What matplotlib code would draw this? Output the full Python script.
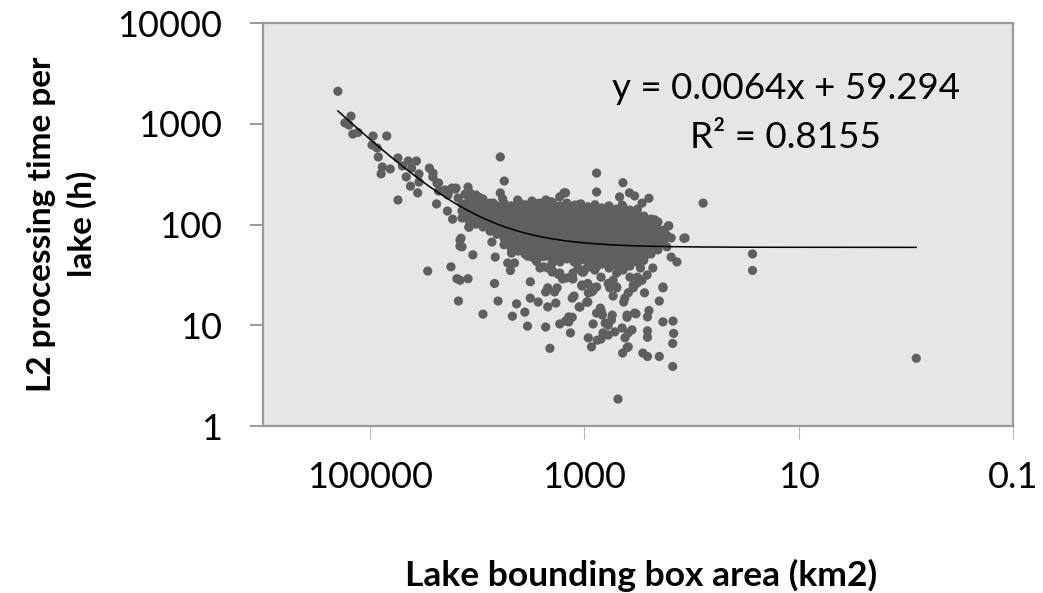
import numpy as np
import matplotlib
matplotlib.use("Agg")
import matplotlib.pyplot as plt
from matplotlib.ticker import NullLocator

plt.rcParams['font.family'] = ['Lato', 'DejaVu Sans']

# ---------------- data ----------------
# upper-left branch and upper fringe of the main cluster: (area km2, time h)
branch_area = [2.0e5, 1.51e5, 1.72e5, 1.58e5, 1.45e5, 1.30e5, 9.4e4, 7.0e4, 9.6e4, 8.6e4,
               8.4e4, 7.7e4, 7.9e4, 6.5e4, 5.5e4, 5.0e4, 4.4e4, 3.7e4, 4.1e4, 4.6e4,
               4.2e4, 3.5e4, 3.5e4, 3.6e4, 5.5e4, 2.8e4, 2.6e4, 2.3e4, 2.3e4, 2.4e4,
               1.9e4, 1.7e4, 2.0e4, 1.8e4, 1.6e4, 1.22e4, 1.3e4, 9.8e3, 6.1e3, 5.6e3,
               6.1e3, 5.8e3, 2.59e4, 2.38e4, 2.0e4, 1.72e4, 1.58e4, 1.88e4, 1.51e4, 1.17e4,
               9.4e3, 1.24e4, 1.05e4, 1.0e4, 1.22e4, 1.09e4, 9.4e3, 9.4e3, 8.0e3, 8.85e3,
               6.4e3, 5.5e3, 1.03e4, 8.9e3, 7.1e3, 6.5e3, 4.1e3, 3.0e3, 2.6e3, 2.0e3,
               1.7e3, 1.5e3, 1.23e3, 1.0e3, 4.2e3, 2.9e3, 2.1e3, 1.55e3, 1.15e3, 1.0e3]
branch_time = [2100, 1190, 1020, 970, 790, 820, 756, 756, 615, 575,
               468, 372, 318, 356, 457, 381, 427, 427, 363, 297,
               240, 318, 264, 206, 175, 363, 297, 258, 215, 160,
               136, 113, 215, 220, 225, 235, 200, 188, 468, 270,
               206, 180, 324, 258, 220, 230, 230, 196, 183, 206,
               183, 163, 167, 150, 119, 116, 133, 111, 94.5, 146,
               130, 146, 196, 167, 163, 150, 167, 163, 163, 167,
               188, 206, 156, 139, 175, 163, 168, 206, 156, 142]

# right-hand upper fringe of the cluster
right_area = [770, 437, 770, 470, 380, 340, 445, 250, 290, 320,
              78, 165, 115, 230, 210, 210, 177, 170, 185, 155,
              137, 170, 155, 220, 210, 163, 118]
right_time = [324, 260, 210, 188, 206, 192, 156, 182, 163, 142,
              163, 97, 73.5, 111, 103, 84, 75, 60, 67, 47.5,
              42.5, 78, 73.5, 111, 92, 97, 73]

# sparse points below the cluster
lower_area = [2.9e4, 1.76e4, 1.55e4, 1.22e4, 1.5e4, 8.85e3, 1.42e4, 1.45e4, 1.2e4, 1.1e4,
              7.3e3, 6.8e3, 6.9e3, 6.4e3, 5.2e3, 4.8e3, 4.5e3, 4.9e3, 4.3e3, 4.7e3,
              3.6e3, 3.2e3, 3.2e3, 2.7e3, 2.3e3, 2.2e3, 1.9e3, 1.85e3, 1.25e3, 1.05e3,
              920, 940, 1.12e3, 1.4e3, 770, 3.4e3, 2.3e3, 2.1e3, 1.7e3, 1.4e3,
              1.3e3, 1.35e3, 1.5e3, 3.4e3, 3.0e3, 2.8e3, 2.5e3, 2.4e3, 2.0e3, 2.0e3,
              1.75e3, 1.6e3, 1.28e3, 1.28e3, 1.02e3, 880, 770, 1.45e4, 1.39e4, 1.19e4,
              1.45e4, 3.1e3, 2.8e3, 2.6e3, 2.2e3, 2.0e3, 1.7e3, 1.46e3, 1.3e3, 1.15e3,
              1.0e3, 2.2e3, 1.8e3, 930, 1.05e3, 930, 800, 700, 600, 540,
              500, 436, 376, 1.06e3, 830, 580, 500, 230, 260, 290,
              320, 350, 185]
lower_time = [34.5, 38, 29, 29, 17.4, 12.9, 73, 61, 94, 50,
              67, 47.5, 26, 17.4, 41.5, 52, 41.5, 35, 16.3, 12.3,
              13.5, 27, 18.6, 17, 21.4, 15.2, 21.4, 16.6, 19.5, 25,
              21, 17, 15.2, 12.1, 13.2, 9.8, 9.6, 5.9, 10.3, 10.8,
              12, 8.4, 11, 48.6, 54, 43, 48, 38, 41.5, 33.7,
              32, 28.8, 33, 28.8, 33.7, 38, 38, 70, 60, 94.5,
              28, 47.5, 44.5, 37, 37, 35.3, 33, 29.5, 30, 37,
              35.3, 23.5, 23.5, 26, 33.7, 38, 35.3, 30, 26, 28,
              33, 35.3, 30, 25, 23.5, 23.5, 24, 37, 31.5, 28,
              26.3, 23.5, 24]

# lower-right scatter and isolated outliers
tail_area = [27, 27, 185, 200, 275, 149, 147, 150, 150, 486,
             185, 200, 258, 285, 258, 258, 258, 250, 400, 440,
             390, 418, 390, 360, 445, 520, 600, 670, 700, 920,
             860, 760, 830, 700, 680, 560, 600, 640, 400, 330,
             1.3e3, 1.1e3, 930, 1.05e3, 830, 770, 540, 500, 710, 690,
             550, 860, 950, 420, 430, 390, 350, 320, 300, 280,
             340, 400, 0.8]
tail_time = [51, 35, 23.5, 17.4, 21, 11, 8.3, 6.6, 3.9, 1.85,
             10.8, 4.9, 4.9, 5.3, 8.8, 7.6, 12.1, 14, 6, 5.3,
             6.1, 7.5, 8.4, 9, 9.4, 8.6, 8, 8.4, 7.3, 7.5,
             6.1, 7.1, 10.3, 14, 12.6, 11.3, 10, 10.5, 12, 13,
             18.6, 15.2, 17, 24.5, 22, 24, 19.5, 23.5, 14.8, 13.2,
             12.6, 21.4, 17, 18.6, 17, 21, 25, 30, 37, 44,
             13.2, 12.6, 4.7]

# dense core of the cluster: area (km2) -> times (h) of the points stacked there
core = {
    13900: [160, 136, 116],
    11900: [175, 150, 127, 108],
    10300: [163, 139, 119, 101],
    8850: [179, 153, 130, 111, 94.5],
    7600: [163, 139, 119, 101, 86],
    6550: [153, 130, 111, 94.5, 80],
    5630: [163, 139, 119, 101, 86, 73.5, 63],
    4840: [153, 130, 111, 94.5, 80, 68.5, 58.5],
    4170: [167, 142, 121, 103, 88, 75, 64.5, 54.5],
    3590: [157, 133, 113, 97, 82, 70, 60, 51],
    3090: [171, 146, 124, 106, 90, 77, 65.5, 56],
    2660: [160, 136, 116, 99, 84, 72, 61.5, 52.5],
    2290: [175, 150, 127, 108, 92, 78.5, 67, 57, 48.5],
    1970: [163, 139, 119, 101, 86, 73.5, 63, 53.5, 45.5],
    1690: [153, 130, 111, 94.5, 80, 68.5, 58.5, 50, 42.5],
    1460: [163, 139, 119, 101, 86, 73.5, 63, 53.5, 45.5],
    1250: [153, 130, 111, 94.5, 80, 68.5, 58.5, 50, 42.5],
    1080: [160, 136, 116, 99, 84, 72, 61.5, 52.5, 44.5],
    926: [150, 127, 108, 92, 78.5, 67, 57, 48.5, 41.5],
    797: [157, 133, 113, 97, 82, 70, 60, 51, 43.5],
    686: [146, 124, 106, 90, 77, 65.5, 56, 47.5, 40.5],
    590: [153, 130, 111, 94.5, 80, 68.5, 58.5, 50, 42.5, 37],
    507: [142, 121, 103, 88, 75, 64.5, 54.5, 46.5, 39.5],
    436: [150, 127, 108, 92, 78.5, 67, 57, 48.5, 41.5],
    376: [139, 119, 101, 86, 73.5, 63, 53.5, 45.5, 38.7],
    323: [130, 111, 94.5, 80, 68.5, 58.5, 50, 42.5],
    278: [121, 103, 88, 75, 64.5, 54.5, 46.5],
    239: [113, 97, 82, 70, 60, 51],
    206: [106, 90, 77, 65.5, 56],
    181: [88, 70],
}

# linear trendline shown on the chart
trend_slope = 0.0064
trend_intercept = 59.294
eq_text = "y = 0.0064x + 59.294"
r2_text = "R² = 0.8155"

x_ticks = [1e5, 1e3, 10, 0.1]
x_ticklabels = ["100000", "1000", "10", "0.1"]
y_ticks = [1, 10, 100, 1000, 10000]
y_ticklabels = ["1", "10", "100", "1000", "10000"]

# ---------------- assemble ----------------
core_area = [a for a, ts in core.items() for _ in ts]
core_time = [t for ts in core.values() for t in ts]
area = np.array(branch_area + right_area + lower_area + tail_area + core_area, dtype=float)
time = np.array(branch_time + right_time + lower_time + tail_time + core_time, dtype=float)

W, H = 1043, 593
fig = plt.figure(figsize=(W / 100, H / 100), dpi=100)
fig.patch.set_facecolor('white')
ax = fig.add_axes([263 / W, 1 - 426 / H, (1013 - 263) / W, (426 - 23) / H])
ax.set_facecolor('#e6e6e6')

ax.scatter(area, time, s=44, color='#5f5f5f', edgecolors='none', zorder=3)

xs = np.logspace(np.log10(area.min()), np.log10(area.max()), 400)
ax.plot(xs, trend_slope * xs + trend_intercept, color='black', lw=1.1, zorder=4)

ax.set_xscale('log')
ax.set_yscale('log')
ax.set_xlim(1e6, 0.1)
ax.set_ylim(1, 10000)
ax.set_xticks(x_ticks)
ax.set_xticklabels(x_ticklabels)
ax.set_yticks(y_ticks)
ax.set_yticklabels(y_ticklabels)
ax.xaxis.set_minor_locator(NullLocator())
ax.yaxis.set_minor_locator(NullLocator())

for s in ax.spines.values():
    s.set_color('#9a9a9a')
    s.set_linewidth(1.6)

ax.tick_params(axis='y', direction='out', length=9.5, width=1.4, color='#9a9a9a',
               pad=20, labelsize=26, labelcolor='black')
ax.tick_params(axis='x', direction='out', length=9, width=0.8, color='#b5b5b5',
               pad=16, labelsize=26, labelcolor='black')

fig.text(786 / W, 1 - 88 / H, eq_text, ha='center', va='center', fontsize=26.5)
fig.text(786 / W, 1 - 138 / H, r2_text, ha='center', va='center', fontsize=26.5)

fig.text(62 / W, 1 - 224 / H, "L2 processing time per\nlake (h)", rotation=90,
         ha='center', va='center', fontsize=24, fontweight='bold', multialignment='center',
         linespacing=1.4)
fig.text(641 / W, 1 - 575 / H, "Lake bounding box area (km2)", ha='center', va='center',
         fontsize=25.5, fontweight='bold')

fig.savefig('out.png', dpi=100)
